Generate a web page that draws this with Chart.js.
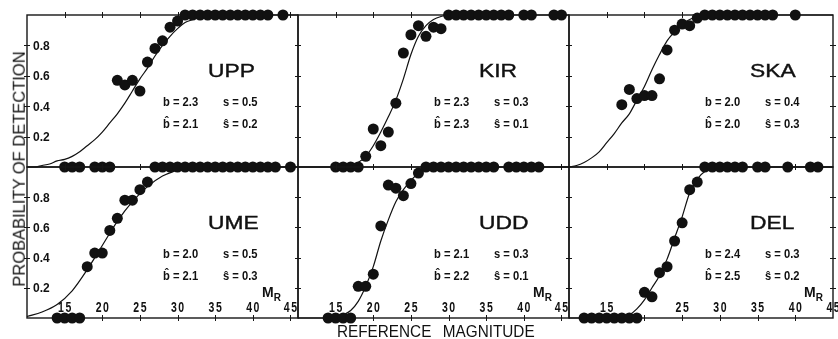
<!DOCTYPE html>
<html><head><meta charset="utf-8">
<script src="https://cdn.jsdelivr.net/npm/chart.js@4.4.1/dist/chart.umd.min.js"></script>
<style>
html,body{margin:0;padding:0;background:#fff;}
#wrap{position:relative;width:838px;height:339px;overflow:hidden;background:#fff;font-family:"Liberation Sans",Arial,Helvetica,sans-serif;color:#111;}
#wrap canvas{position:absolute;}
.t{position:absolute;white-space:nowrap;line-height:1;transform-origin:0 0;}
</style></head><body><div id="wrap"></div>
<script>
// ---------------- data ----------------
const stations = ['UPP', 'KIR', 'SKA', 'UME', 'UDD', 'DEL'];
const bValues    = ['2.3', '2.3', '2.0', '2.0', '2.1', '2.4'];
const sValues    = ['0.5', '0.3', '0.4', '0.5', '0.3', '0.3'];
const bHatValues = ['2.1', '2.3', '2.0', '2.1', '2.2', '2.5'];
const sHatValues = ['0.2', '0.1', '0.3', '0.3', '0.1', '0.2'];

const xTicks = [15, 20, 25, 30, 35, 40, 45];
const yTicks = [0.2, 0.4, 0.6, 0.8];
const yTickLabels = ['0.2', '0.4', '0.6', '0.8'];
const xLabelsLeft   = ['15', '20', '25', '30', '35', '40', '45'];
const xLabelsMiddle = ['15', '20', '25', '30', '35', '40', '45'];
const xLabelsRight  = ['15', '25', '30', '35', '40', '45'];

// UPP
const uppMag  = [15,16,17,19,20,21,22,23,24,25,26,27,28,29,30,31,32,33,34,35,36,37,38,39,40,41,42,44];
const uppProb = [0,0,0,0,0,0,0.57,0.54,0.57,0.50,0.69,0.78,0.83,0.92,0.96,1,1,1,1,1,1,1,1,1,1,1,1,1];
const uppFitMag  = [10,11,12,13,14,15,16,17,18,19,20,21,22,23,24,25,26,27,28,29,30,31,32,33,34,46];
const uppFitProb = [0,0,0.01,0.02,0.04,0.05,0.07,0.10,0.14,0.18,0.23,0.29,0.35,0.42,0.50,0.58,0.65,0.73,0.80,0.86,0.91,0.95,0.97,0.99,1,1];
// KIR
const kirMag  = [15,16,17,18,19,20,21,22,23,24,25,26,27,28,29,30,31,32,33,34,35,36,37,38,40,41,44,45];
const kirProb = [0,0,0,0,0.07,0.25,0.14,0.23,0.42,0.75,0.87,0.93,0.86,0.92,0.91,1,1,1,1,1,1,1,1,1,1,1,1,1];
const kirFitMag  = [10,16,17,18,19,20,21,22,23,24,25,26,27,28,29,30,46];
const kirFitProb = [0,0,0.01,0.03,0.07,0.14,0.23,0.33,0.44,0.58,0.74,0.86,0.93,0.97,0.99,1,1];
// SKA
const skaMag  = [17,18,19,20,21,22,23,24,25,26,27,28,29,30,31,32,33,34,35,36,37,40];
const skaProb = [0.41,0.51,0.45,0.47,0.47,0.58,0.77,0.90,0.94,0.93,0.98,1,1,1,1,1,1,1,1,1,1,1];
const skaFitMag  = [10,11,12,13,14,15,16,17,18,19,20,21,22,23,24,25,26,27,28,45];
const skaFitProb = [0,0.01,0.03,0.06,0.10,0.16,0.22,0.29,0.35,0.44,0.53,0.64,0.74,0.83,0.89,0.94,0.97,0.99,1,1];
// UME
const umeMag  = [14,15,16,17,18,19,20,21,22,23,24,25,26,27,28,29,30,31,32,33,34,35,36,37,38,39,40,41,42,43,45];
const umeProb = [0,0,0,0,0.34,0.43,0.43,0.58,0.66,0.78,0.78,0.85,0.90,1,1,1,1,1,1,1,1,1,1,1,1,1,1,1,1,1,1];
const umeFitMag  = [10,12,14,16,18,20,22,24,26,28,30,31,46];
const umeFitProb = [0.01,0.04,0.09,0.18,0.32,0.48,0.64,0.77,0.87,0.94,0.98,1,1];
// UDD
const uddMag  = [14,15,16,17,18,19,20,21,22,23,24,25,26,27,28,29,30,31,32,33,34,35,36,38,39,40,41,42];
const uddProb = [0,0,0,0,0.21,0.21,0.29,0.61,0.88,0.86,0.81,0.89,0.96,1,1,1,1,1,1,1,1,1,1,1,1,1,1,1];
const uddFitMag  = [10,15,16,17,18,19,20,21,22,23,24,25,26,27,28,46];
const uddFitProb = [0,0,0.02,0.05,0.11,0.21,0.34,0.51,0.65,0.77,0.85,0.91,0.96,0.99,1,1];
// DEL
const delMag  = [12,13,14,15,16,17,18,19,20,21,22,23,24,25,26,27,28,29,30,31,32,33,35,36,39,42,43];
const delProb = [0,0,0,0,0,0,0,0,0.17,0.14,0.30,0.34,0.51,0.63,0.85,0.90,1,1,1,1,1,1,1,1,1,1,1];
const delFitMag  = [10,17,18,19,20,21,22,23,24,25,26,27,28,29,30,45];
const delFitProb = [0,0,0.02,0.06,0.12,0.20,0.28,0.39,0.53,0.67,0.83,0.92,0.97,0.99,1,1];

const obsMag  = [uppMag, kirMag, skaMag, umeMag, uddMag, delMag];
const obsProb = [uppProb, kirProb, skaProb, umeProb, uddProb, delProb];
const fitMag  = [uppFitMag, kirFitMag, skaFitMag, umeFitMag, uddFitMag, delFitMag];
const fitProb = [uppFitProb, kirFitProb, skaFitProb, umeFitProb, uddFitProb, delFitProb];
const xLabelSets = [xLabelsLeft, xLabelsMiddle, xLabelsRight];

// ---------------- layout ----------------
const colLeft  = [27, 298, 569];
const colRight = [298, 569, 833];
const rowTop    = [15, 167];
const rowBottom = [167, 318];
const xMax = [46, 46, 45];
const PAD = 10;
const FONT = '"Liberation Sans", Arial, Helvetica, sans-serif';
const wrap = document.getElementById('wrap');

function addText(txt, left, top, css) {
  const d = document.createElement('div');
  d.className = 't';
  d.textContent = txt;
  d.style.left = left + 'px';
  d.style.top = top + 'px';
  Object.assign(d.style, css || {});
  wrap.appendChild(d);
  return d;
}

function makeFramePlugin(row, col) {
  return {
    id: 'frame' + row + col,
    beforeDatasetsDraw(chart) {
      const ctx = chart.ctx, a = chart.chartArea, x = chart.scales.x, y = chart.scales.y;
      ctx.save();
      ctx.strokeStyle = '#161616';
      ctx.lineWidth = 1.4;
      ctx.strokeRect(a.left, a.top, a.right - a.left, a.bottom - a.top);
      ctx.lineWidth = 1;
      ctx.beginPath();
      xTicks.forEach(v => {
        if (v >= x.max) return;
        const px = Math.round(x.getPixelForValue(v)) + 0.5;
        ctx.moveTo(px, a.top - 3); ctx.lineTo(px, a.top + 3);
        ctx.moveTo(px, a.bottom - 3); ctx.lineTo(px, a.bottom + 3);
      });
      yTicks.forEach(v => {
        const py = Math.round(y.getPixelForValue(v)) + 0.5;
        ctx.moveTo(a.left - 3, py); ctx.lineTo(a.left + 3, py);
        ctx.moveTo(a.right - 3, py); ctx.lineTo(a.right + 3, py);
      });
      ctx.stroke();
      ctx.fillStyle = '#111';
      if (col === 0) {
        ctx.font = 'bold 12px ' + FONT;
        ctx.textAlign = 'left';
        ctx.textBaseline = 'alphabetic';
        yTicks.forEach((v, i) => {
          ctx.fillText(yTickLabels[i], a.left + 6, y.getPixelForValue(v) + 4.4);
        });
      }
      if (row === 1) {
        ctx.font = 'bold 14px ' + FONT;
        ctx.textAlign = 'center';
        ctx.textBaseline = 'alphabetic';
        xLabelSets[col].forEach(lbl => {
          const px = x.getPixelForValue(Number(lbl));
          for (let k = 0; k < lbl.length; k++) {
            const cx = px + (k - (lbl.length - 1) / 2) * 7.4;
            ctx.save();
            ctx.translate(cx, a.bottom - 6);
            ctx.scale(0.75, 1);
            ctx.fillText(lbl[k], 0, 0);
            ctx.restore();
          }
        });
      }
      ctx.restore();
    }
  };
}

for (let i = 0; i < 6; i++) {
  const row = Math.floor(i / 3), col = i % 3;
  const w = colRight[col] - colLeft[col], h = rowBottom[row] - rowTop[row];
  const cv = document.createElement('canvas');
  cv.width = w + 2 * PAD; cv.height = h + 2 * PAD;
  cv.style.left = (colLeft[col] - PAD) + 'px';
  cv.style.top = (rowTop[row] - PAD) + 'px';
  cv.style.width = cv.width + 'px'; cv.style.height = cv.height + 'px';
  wrap.appendChild(cv);
  const pts = obsMag[i].map((m, k) => ({ x: m, y: obsProb[i][k] }));
  const fit = fitMag[i].map((m, k) => ({ x: m, y: fitProb[i][k] }));
  new Chart(cv, {
    type: 'scatter',
    data: { datasets: [
      { data: pts, pointRadius: 5.5, pointBackgroundColor: '#111', pointBorderColor: '#111', pointBorderWidth: 0, clip: false },
      { data: fit, showLine: true, borderColor: '#111', borderWidth: 1.2, pointRadius: 0, cubicInterpolationMode: 'monotone', clip: false }
    ]},
    options: {
      responsive: false, animation: false, devicePixelRatio: 1, events: [],
      layout: { padding: PAD },
      plugins: { legend: { display: false }, tooltip: { enabled: false } },
      scales: {
        x: { type: 'linear', min: 10, max: xMax[col], display: false },
        y: { type: 'linear', min: 0, max: 1, display: false }
      }
    },
    plugins: [makeFramePlugin(row, col)]
  });

  // station name
  addText(stations[i], colLeft[col] + 181, rowTop[row] + 48 - 2.5,
    { fontSize: '19px', transform: 'scaleX(1.2)', WebkitTextStroke: '0.4px #111' });
  // parameters
  const pf = 13, pTop1 = rowTop[row] + 91 - 0.847 * pf, pTop2 = rowTop[row] + 113 - 0.847 * pf;
  const pcss = { fontSize: pf + 'px', fontWeight: 'bold', transform: 'scaleX(0.86)' };
  addText('b = ' + bValues[i], colLeft[col] + 136, pTop1, pcss);
  addText('s = ' + sValues[i], colLeft[col] + 196, pTop1, pcss);
  addText('b\u0302 = ' + bHatValues[i], colLeft[col] + 136, pTop2, pcss);
  addText('\u015D = ' + sHatValues[i], colLeft[col] + 196, pTop2, pcss);
  if (row === 1) {
    const m = addText('M', colLeft[col] + 235, rowBottom[row] - 21 - 0.847 * 14, { fontSize: '14px', fontWeight: 'bold' });
    const sub = document.createElement('span');
    sub.textContent = 'R';
    sub.style.fontSize = '10px';
    sub.style.position = 'relative';
    sub.style.top = '4px';
    m.appendChild(sub);
  }
}

// axis titles
const yt = addText('PROBABILITY OF DETECTION', 19, 169, { fontSize: '16.5px' });
yt.style.transformOrigin = '50% 50%';
yt.style.transform = 'translate(-50%,-50%) rotate(-90deg)';
addText('REFERENCE MAGNITUDE', 337, 325 - 0.13 * 17, { fontSize: '17px', transform: 'scaleX(0.9)', wordSpacing: '8px' });
</script></body></html>
